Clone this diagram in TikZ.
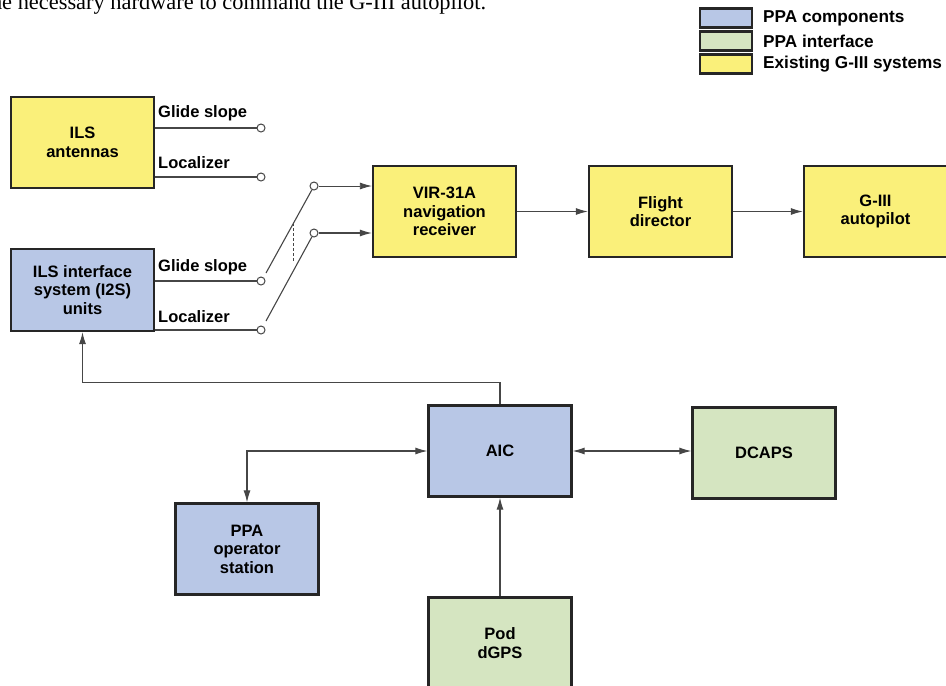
\documentclass[tikz,border=0pt]{standalone}
\usepackage{fontspec}
\setmainfont{Liberation Serif}
\setsansfont{Liberation Sans}
\usetikzlibrary{arrows.meta}

\definecolor{ppablue}{RGB}{184,199,230}
\definecolor{ppagreen}{RGB}{213,229,193}
\definecolor{gyellow}{RGB}{250,240,122}
\definecolor{wiregray}{RGB}{70,70,70}

\begin{document}
\begin{tikzpicture}[x=1pt, y=-1pt,
	unit/.style={draw=black!85, line width=2.2pt, minimum width=143pt, minimum height=91pt, inner sep=0pt, align=center, font=\sffamily\bfseries\fontsize{16.5}{18.5}\selectfont},
	ppa/.style={unit, fill=ppablue},
	iface/.style={unit, fill=ppagreen},
	gsys/.style={unit, fill=gyellow},
	keybox/.style={draw=black!85, line width=2.2pt, minimum width=52pt, minimum height=19pt, inner sep=0pt},
	keytext/.style={anchor=west, inner sep=0pt, font=\sffamily\bfseries\fontsize{17.2}{18}\selectfont},
	sig/.style={anchor=west, inner sep=0pt, font=\sffamily\bfseries\fontsize{16.5}{18}\selectfont},
	term/.style={circle, draw=wiregray, fill=white, line width=1pt, minimum size=8pt, inner sep=0pt},
	wire/.style={draw=wiregray, line width=1.1pt},
	flow/.style={wire, -{Latex[length=12pt,width=7pt]}},
	dflow/.style={wire, {Latex[length=12pt,width=7pt]}-{Latex[length=12pt,width=7pt]}}]
	\useasboundingbox (0,0) rectangle (946,686);
	\clip (0,0) rectangle (946,686);
	% cut-off line of the page text above the figure
	\node[anchor=base west, inner sep=0pt, font=\fontsize{22.4}{24}\selectfont] (pagetext) at (-15.4,9.5) {the necessary hardware to command the G-III autopilot.};
	% legend
	\node[keybox, fill=ppablue] (keyppa) at (726,18) {};
	\node[keybox, fill=ppagreen] (keyiface) at (726,41) {};
	\node[keybox, fill=gyellow] (keygsys) at (726,64) {};
	\node[keytext] (keyppatext) at (763,18) {PPA components};
	\node[keytext] (keyifacetext) at (763,41) {PPA interface};
	\node[keytext] (keygsystext) at (763,64) {Existing G-III systems};
	% boxes
	\node[gsys] (ils) at (82.5,142.5) {ILS\\antennas};
	\node[ppa, minimum height=82pt] (i2s) at (82.5,290) {ILS interface\\system (I2S)\\units};
	\node[gsys] (vir) at (444.5,211.5) {VIR-31A\\navigation\\receiver};
	\node[gsys] (fd) at (660.5,211.5) {Flight\\director};
	\node[gsys] (ap) at (875.5,211.5) {G-III\\autopilot};
	\node[ppa] (aic) at (500,451) {AIC};
	\node[iface] (dcaps) at (764,453) {DCAPS};
	\node[ppa] (opst) at (247,549) {PPA\\operator\\station};
	\node[iface] (pod) at (500,643) {Pod\\dGPS};
	% signal terminals
	\node[term] (gsa) at (261,128) {};
	\node[term] (loca) at (261,177) {};
	\node[term] (gsb) at (261,281) {};
	\node[term] (locb) at (261,330) {};
	\node[term] (swa) at (314,186) {};
	\node[term] (swb) at (314,233) {};
	\node[sig] (gsalabel) at (158,113) {Glide slope};
	\node[sig] (localabel) at (158,163) {Localizer};
	\node[sig] (gsblabel) at (158,267) {Glide slope};
	\node[sig] (locblabel) at (158,317) {Localizer};
	\draw[wire] (ils.east |- gsa) -- (gsa);
	\draw[wire] (ils.east |- loca) -- (loca);
	\draw[wire] (i2s.east |- gsb) -- (gsb);
	\draw[wire] (i2s.east |- locb) -- (locb);
	% switch
	\coordinate (bladea) at (266,273);
	\coordinate (bladeb) at (266,321);
	\coordinate (linktop) at (293,223);
	\coordinate (linkbot) at (293,261);
	\draw[wire] (bladea) -- (swa);
	\draw[wire] (bladeb) -- (swb);
	\draw[wire, line width=0.8pt, dash pattern=on 3pt off 2pt] (linktop) -- (linkbot);
	\draw[flow, line width=0.8pt] (swa) -- (swa -| vir.west);
	\draw[flow] (swb) -- (swb -| vir.west);
	\draw[flow] (vir) -- (fd);
	\draw[flow] (fd) -- (ap);
	% PPA connections
	\draw[flow] (aic.north) -- ++(0,-22) -| (i2s.south);
	\draw[dflow] (opst.north) |- (aic.west);
	\draw[dflow] (aic.east) -- (dcaps.west |- aic.east);
	\draw[flow] (pod.north) -- (aic.south);
\end{tikzpicture}
\end{document}
